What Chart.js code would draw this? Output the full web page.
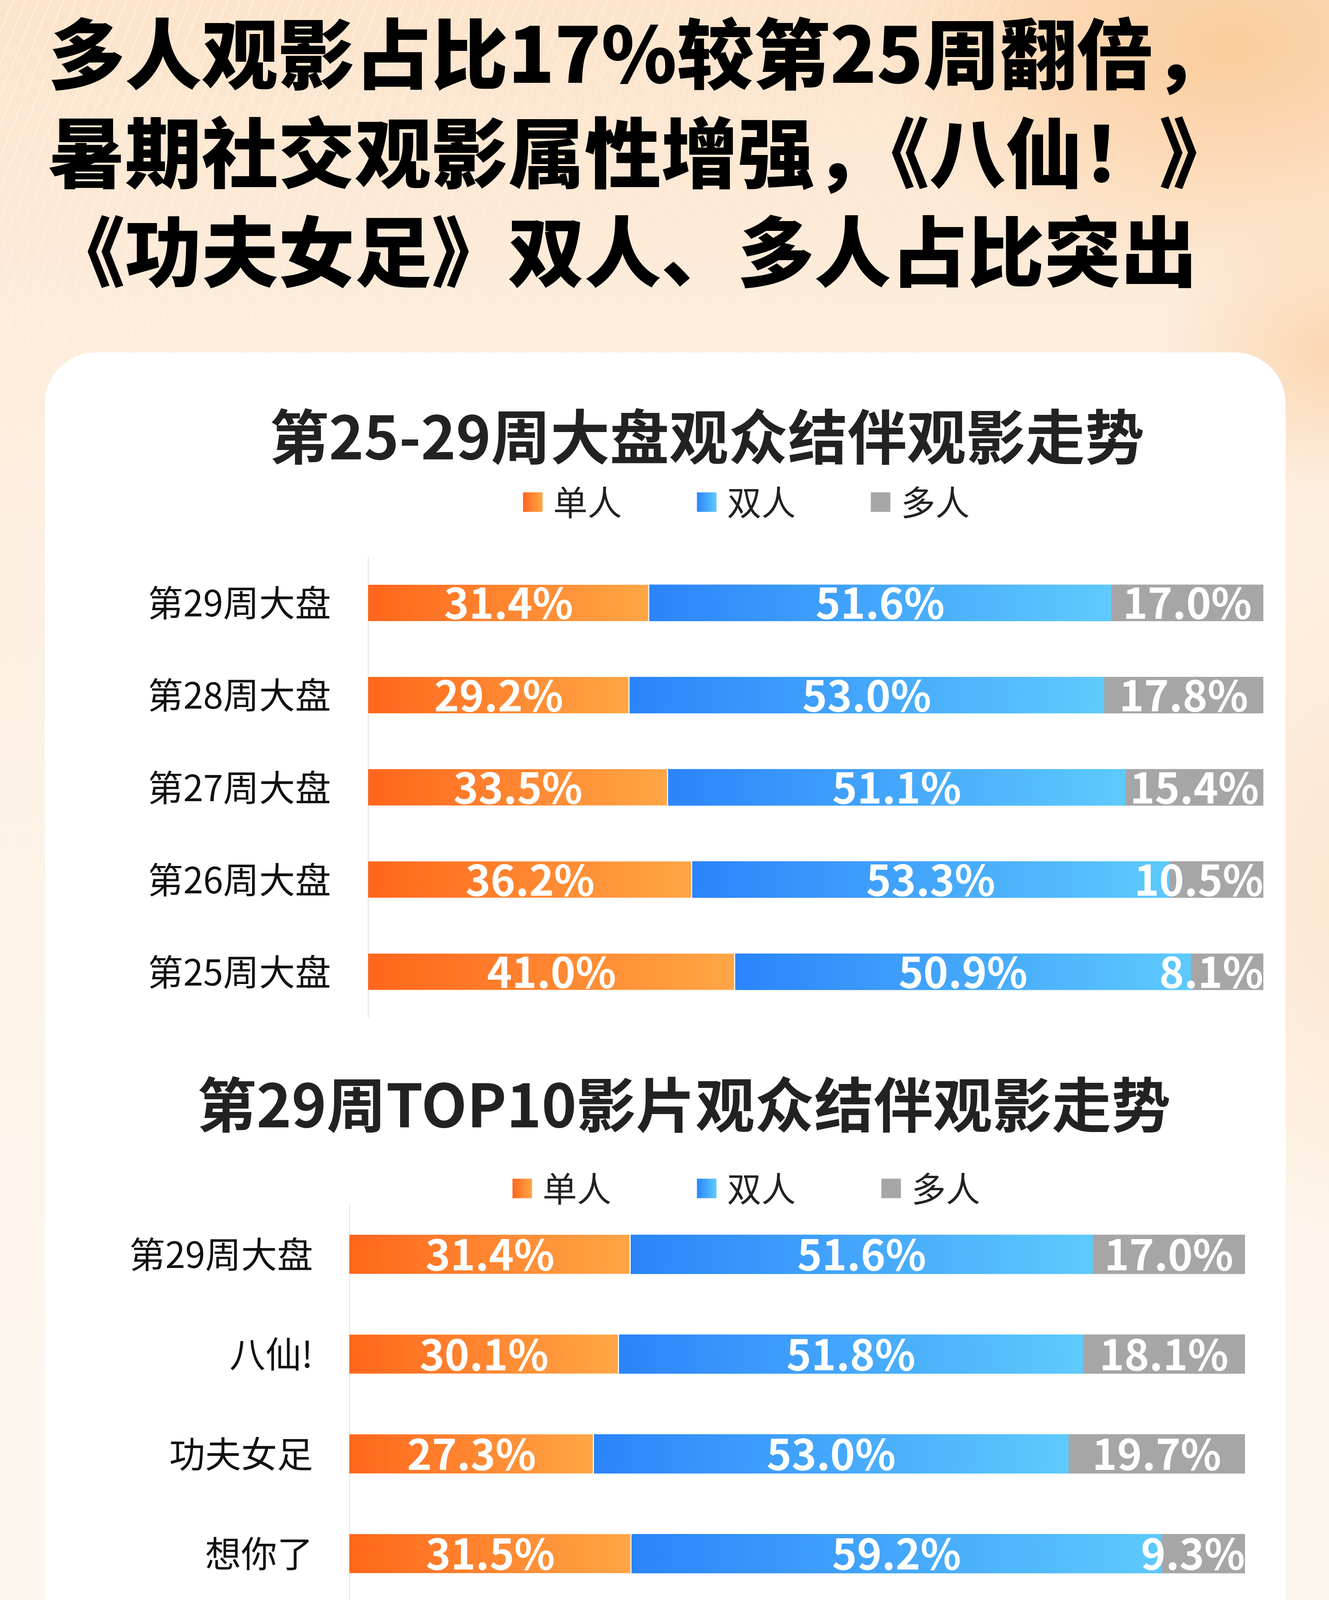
<!DOCTYPE html>
<html lang="zh-CN">
<head>
<meta charset="utf-8">
<title>第25-29周观众结伴观影走势</title>
<script src="https://cdn.jsdelivr.net/npm/chart.js@4.4.1/dist/chart.umd.min.js"></script>
<style>
html, body { margin: 0; padding: 0; }
body {
  width: 3401px; height: 6429px; position: relative; overflow: hidden;
  font-family: "Noto Sans CJK SC", "Noto Sans", sans-serif;
  background: linear-gradient(180deg, #fde4cb 0px, #fdecdb 800px, #fdf2e6 2000px, #fdf6ee 3600px, #fdf6ee 100%);
}
.glow {
  position: absolute; left: 0; top: 0; width: 3401px; height: 6429px;
  background:
    radial-gradient(ellipse 900px 620px at 3150px 120px, rgba(250,196,140,0.75), rgba(250,196,140,0) 100%),
    radial-gradient(ellipse 420px 360px at 3400px 900px, rgba(250,200,150,0.6), rgba(250,200,150,0) 100%),
    radial-gradient(ellipse 500px 900px at 3450px 2300px, rgba(252,214,176,0.45), rgba(252,214,176,0) 100%);
}
.stripes {
  position: absolute; left: 0; top: 0; width: 2600px; height: 1700px;
  background: repeating-linear-gradient(112deg, rgba(255,255,255,0.5) 0 3px, rgba(255,255,255,0) 3px 30px);
  -webkit-mask-image: linear-gradient(160deg, rgba(0,0,0,0.9) 0%, rgba(0,0,0,0.4) 40%, rgba(0,0,0,0) 75%);
  mask-image: linear-gradient(160deg, rgba(0,0,0,0.9) 0%, rgba(0,0,0,0.4) 40%, rgba(0,0,0,0) 75%);
}
.headline {
  position: absolute; left: 124px; top: 0; margin: 0;
  font-size: 196px; line-height: 253px; font-weight: 900; color: #000; white-space: nowrap;
}
.card {
  position: absolute; left: 115px; top: 902px; width: 3175px; height: 5012px;
  background: #fff; border-radius: 130px;
}
.chart-box { position: absolute; left: 115px; width: 3175px; }
#box1 { top: 950px; height: 1806px; }
#box2 { top: 2660px; height: 3381px; }
.foot { position: absolute; left: 128px; font-size: 100px; line-height: 120px; color: #666; white-space: nowrap; }
.logo { position: absolute; left: 1296px; top: 6148px; width: 178px; height: 180px; }
.brand { position: absolute; left: 1522px; top: 6163px; font-size: 118px; line-height: 142px; color: #f26a1e; font-weight: 500; white-space: nowrap; }
</style>
</head>
<body>
<div class="glow"></div>
<div class="stripes"></div>
<h1 class="headline">多人观影占比17%较第25周翻倍，<br>暑期社交观影属性增强，《八仙！》<br>《功夫女足》双人、多人占比突出</h1>
<div class="card"></div>
<div class="chart-box" id="box1"><canvas id="weekChart"></canvas></div>
<div class="chart-box" id="box2"><canvas id="filmChart"></canvas></div>
<div class="foot" style="top:6103px;">统计截至时间</div>
<div class="foot" style="top:6283px;">2026年7月27日</div>
<svg class="logo" viewBox="0 0 178 180">
  <rect x="0" y="0" width="178" height="180" rx="38" fill="#f46a1c"/>
  <polygon points="89,26 62,42 116,42" fill="#fff"/>
  <rect x="60" y="41" width="58" height="27" fill="#fff"/>
  <circle cx="89" cy="55" r="8" fill="#f46a1c"/>
  <rect x="48" y="67" width="82" height="17" fill="#fff"/>
  <polygon points="60,84 120,84 129,180 49,180" fill="#fff"/>
  <polygon points="56,140 124,112 127,140 52,170" fill="#f9a77c"/>
  <rect x="66" y="122" width="6" height="7" fill="#f46a1c"/>
  <rect x="80" y="117" width="6" height="7" fill="#f46a1c"/>
  <rect x="94" y="111" width="6" height="7" fill="#f46a1c"/>
  <rect x="108" y="105" width="6" height="7" fill="#f46a1c"/>
  <rect x="62" y="160" width="6" height="7" fill="#f46a1c"/>
  <rect x="78" y="154" width="6" height="7" fill="#f46a1c"/>
  <rect x="94" y="148" width="6" height="7" fill="#f46a1c"/>
  <rect x="110" y="142" width="6" height="7" fill="#f46a1c"/>
</svg>
<div class="brand">灯塔专业版</div>

<script>
var weekLabels = ['第29周大盘', '第28周大盘', '第27周大盘', '第26周大盘', '第25周大盘'];
var weekSingle = [31.4, 29.2, 33.5, 36.2, 41.0];
var weekPair = [51.6, 53.0, 51.1, 53.3, 50.9];
var weekGroup = [17.0, 17.8, 15.4, 10.5, 8.1];

var filmLabels = ['第29周大盘', '八仙!', '功夫女足', '想你了', '群星闪耀时', '痴迷', '小黄人与大...', '恐怖游轮', '三国第一部：...', '四渡', '会不能停2！'];
var filmSingle = [31.4, 30.1, 27.3, 31.5, 43.8, 41.1, 36.7, 38.0, 43.6, 43.4, 50.6];
var filmPair = [51.6, 51.8, 53.0, 59.2, 44.9, 53.1, 50.1, 53.7, 43.7, 40.6, 44.3];
var filmGroup = [17.0, 18.1, 19.7, 9.3, 11.3, 5.8, 13.2, 8.3, 12.7, 16.0, 5.1];

var seriesNames = ['单人', '双人', '多人'];
var seriesColors = [
  ['#ff661c', '#ffa646'],
  ['#2b84fb', '#5ecafc'],
  ['#a6a6a6', '#a6a6a6']
];

var fontFamily = '"Noto Sans CJK SC", "Noto Sans", sans-serif';
Chart.defaults.font.family = fontFamily;

// each segment gets its own left-to-right gradient
function segmentFill(colors) {
  return function (c) {
    var chart = c.chart;
    if (!chart.chartArea || c.type !== 'data') return colors[0];
    var x = chart.scales.x;
    var start = 0;
    for (var d = 0; d < c.datasetIndex; d++) start += chart.data.datasets[d].data[c.dataIndex];
    var x0 = x.getPixelForValue(start);
    var x1 = x.getPixelForValue(start + c.raw);
    var g = chart.ctx.createLinearGradient(x0, 0, x1, 0);
    g.addColorStop(0, colors[0]);
    g.addColorStop(1, colors[1]);
    return g;
  };
}

var segmentLabels = {
  id: 'segmentLabels',
  afterDatasetsDraw: function (chart) {
    var ctx = chart.ctx, area = chart.chartArea;
    ctx.save();
    ctx.font = 'bold 108px ' + fontFamily;
    ctx.fillStyle = '#fff';
    ctx.textAlign = 'center';
    ctx.textBaseline = 'middle';
    chart.data.datasets.forEach(function (ds, i) {
      chart.getDatasetMeta(i).data.forEach(function (bar, j) {
        var text = ds.data[j].toFixed(1) + '%';
        var w = ctx.measureText(text).width;
        var cx = (bar.x + bar.base) / 2;
        if (cx + w / 2 > area.right) cx = area.right - w / 2;
        ctx.fillText(text, cx, bar.y);
      });
    });
    ctx.restore();
  }
};

var rowLegend = {
  id: 'rowLegend',
  afterDraw: function (chart, args, opts) {
    var ctx = chart.ctx;
    ctx.save();
    ctx.font = '88px ' + fontFamily;
    var items = chart.data.datasets.map(function (ds, i) {
      return { text: ds.label, colors: seriesColors[i], w: 50 + 27 + ctx.measureText(ds.label).width };
    });
    var total = opts.gap * (items.length - 1);
    items.forEach(function (it) { total += it.w; });
    var x = opts.centerX - total / 2;
    var y = chart.chartArea.top + opts.offsetY;
    items.forEach(function (it) {
      var g = ctx.createLinearGradient(x, 0, x + 50, 0);
      g.addColorStop(0, it.colors[0]);
      g.addColorStop(1, it.colors[1]);
      ctx.fillStyle = g;
      ctx.fillRect(x, y - 25, 50, 50);
      ctx.fillStyle = '#222';
      ctx.textAlign = 'left';
      ctx.textBaseline = 'middle';
      ctx.fillText(it.text, x + 77, y);
      x += it.w + opts.gap;
    });
    ctx.restore();
  }
};

function makeChart(id, labels, series, cfg) {
  return new Chart(document.getElementById(id), {
    type: 'bar',
    data: {
      labels: labels,
      datasets: series.map(function (values, i) {
        return {
          label: seriesNames[i],
          data: values,
          backgroundColor: segmentFill(seriesColors[i]),
          barThickness: cfg.bar,
          borderWidth: i === 0 ? { right: 3 } : 0,
          borderColor: 'rgba(255,255,255,0.85)',
          borderSkipped: false
        };
      })
    },
    options: {
      indexAxis: 'y',
      responsive: true,
      maintainAspectRatio: false,
      animation: false,
      layout: { padding: { left: cfg.padLeft, right: cfg.padRight, top: 0, bottom: 0 } },
      scales: {
        x: { stacked: true, min: 0, max: 100, display: false },
        y: {
          stacked: true,
          grid: { display: false, drawTicks: false },
          border: { display: true, color: '#e8e8e8', width: 3 },
          ticks: { padding: cfg.tickPad, color: '#111', font: { size: 92 } },
          afterFit: function (scale) { scale.width = cfg.axisWidth; }
        }
      },
      plugins: {
        legend: { display: false },
        tooltip: { enabled: false },
        title: {
          display: true,
          text: cfg.title,
          color: '#222',
          font: { size: 152, weight: 'bold', lineHeight: 1.2 },
          padding: { top: 77, bottom: cfg.titleGap }
        },
        rowLegend: { centerX: 1795, offsetY: cfg.legendY, gap: cfg.gap }
      }
    },
    plugins: [segmentLabels, rowLegend]
  });
}

makeChart('weekChart', weekLabels, [weekSingle, weekPair, weekGroup], {
  title: '第25-29周大盘观众结伴观影走势',
  bar: 93, padLeft: 270, padRight: 57, axisWidth: 557, tickPad: 95,
  titleGap: 216, legendY: -140, gap: 192
});

makeChart('filmChart', filmLabels, [filmSingle, filmPair, filmGroup], {
  title: '第29周TOP10影片观众结伴观影走势',
  bar: 100, padLeft: 199, padRight: 104, axisWidth: 580, tickPad: 93,
  titleGap: 164, legendY: -41, gap: 219
});
</script>
</body>
</html>
